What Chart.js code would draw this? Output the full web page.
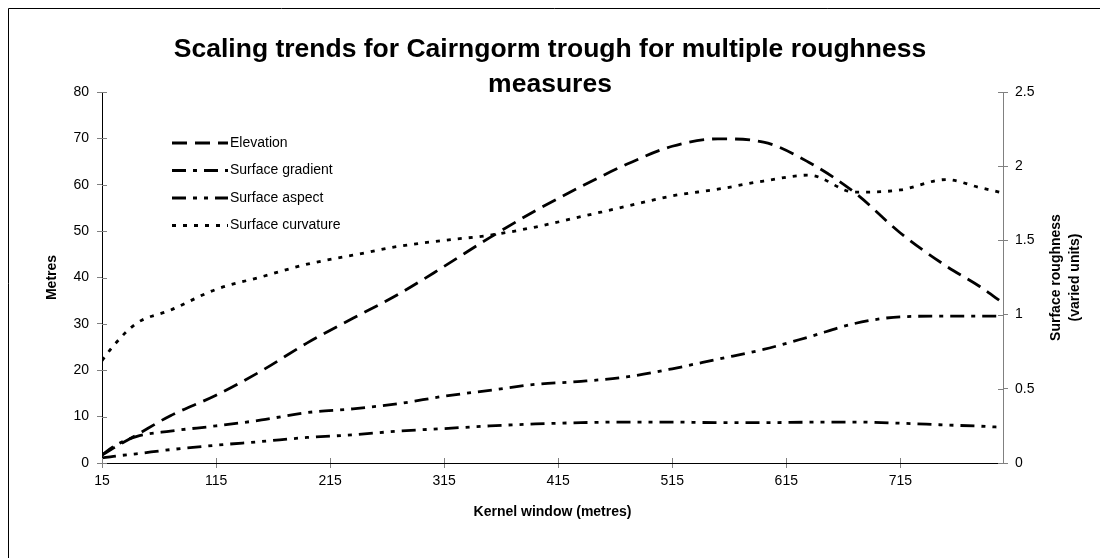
<!DOCTYPE html>
<html>
<head>
<meta charset="utf-8">
<script src="https://cdn.jsdelivr.net/npm/chart.js@4.4.1/dist/chart.umd.min.js"></script>
<style>
  html, body { margin: 0; padding: 0; background: #ffffff; }
  #wrap { width: 1100px; height: 558px; position: relative; }
</style>
</head>
<body>
<div id="wrap"><canvas id="chart" width="1100" height="558"></canvas></div>
<script>
// Kernel window sizes (metres)
const kernelWindow = [15, 25, 45, 75, 115, 155, 195, 235, 275, 315, 355, 395, 435, 475, 515, 555, 595, 635, 675, 715, 755, 785, 805];

// Elevation (metres, left axis)
const elevation = [1.7, 3.2, 6.0, 10.2, 14.6, 19.9, 25.9, 31.2, 36.4, 42.4, 48.6, 54.4, 59.6, 64.4, 68.3, 69.9, 69.2, 64.8, 58.3, 49.6, 42.5, 38.0, 34.5];

// Roughness measures (varied units, right axis)
const surfaceGradient = [0.053, 0.11, 0.178, 0.215, 0.25, 0.29, 0.34, 0.365, 0.40, 0.45, 0.49, 0.53, 0.55, 0.58, 0.635, 0.70, 0.765, 0.85, 0.94, 0.985, 0.99, 0.99, 0.99];
const surfaceAspect = [0.034, 0.045, 0.062, 0.09, 0.12, 0.145, 0.172, 0.19, 0.215, 0.232, 0.25, 0.263, 0.272, 0.276, 0.276, 0.272, 0.272, 0.275, 0.276, 0.268, 0.256, 0.248, 0.24];
const surfaceCurvature = [0.69, 0.79, 0.94, 1.03, 1.17, 1.255, 1.34, 1.40, 1.46, 1.50, 1.535, 1.59, 1.66, 1.73, 1.80, 1.845, 1.90, 1.94, 1.825, 1.84, 1.91, 1.855, 1.82];

// Tick labels
const xTickValues = [15, 115, 215, 315, 415, 515, 615, 715];

const fontFamily = "'Liberation Sans', Arial, Helvetica, sans-serif";

function toPoints(ys) {
  return kernelWindow.map((x, i) => ({ x: x, y: ys[i] }));
}

// Frame around the chart (only top and left edges fall inside the picture)
const framePlugin = {
  id: 'frame',
  beforeDraw(chart) {
    const ctx = chart.ctx;
    ctx.save();
    ctx.strokeStyle = '#000';
    ctx.lineWidth = 1;
    ctx.beginPath();
    ctx.moveTo(8.5, 560);
    ctx.lineTo(8.5, 8.5);
    ctx.lineTo(1100, 8.5);
    ctx.stroke();
    ctx.restore();
  }
};

// Excel style tick marks that cross the axis (inner half)
const innerTicksPlugin = {
  id: 'innerTicks',
  afterDraw(chart) {
    const ctx = chart.ctx;
    const area = chart.chartArea;
    ctx.save();
    ctx.strokeStyle = '#808080';
    ctx.lineWidth = 1;
    ctx.beginPath();
    chart.scales.x.ticks.forEach(t => {
      const px = Math.round(chart.scales.x.getPixelForValue(t.value)) + 0.5;
      ctx.moveTo(px, area.bottom);
      ctx.lineTo(px, area.bottom - 5);
    });
    chart.scales.y.ticks.forEach(t => {
      const py = Math.round(chart.scales.y.getPixelForValue(t.value)) + 0.5;
      ctx.moveTo(area.left, py);
      ctx.lineTo(area.left + 5, py);
    });
    chart.scales.y1.ticks.forEach(t => {
      const py = Math.round(chart.scales.y1.getPixelForValue(t.value)) + 0.5;
      ctx.moveTo(area.right, py);
      ctx.lineTo(area.right - 5, py);
    });
    ctx.stroke();
    ctx.restore();
  }
};

// Legend drawn inside the plot, top left
const insideLegendPlugin = {
  id: 'insideLegend',
  afterDatasetsDraw(chart) {
    const ctx = chart.ctx;
    ctx.save();
    ctx.font = '14px ' + fontFamily;
    ctx.textBaseline = 'middle';
    ctx.fillStyle = '#000';
    chart.data.datasets.forEach((ds, i) => {
      const y = 143 + i * 27.5;
      ctx.strokeStyle = ds.borderColor;
      ctx.lineWidth = ds.borderWidth;
      ctx.setLineDash(ds.borderDash);
      ctx.beginPath();
      ctx.moveTo(172, y);
      ctx.lineTo(228, y);
      ctx.stroke();
      ctx.setLineDash([]);
      ctx.fillText(ds.label, 230, y);
    });
    ctx.restore();
  }
};

// Right axis title reads bottom to top, as in the original
const rightTitlePlugin = {
  id: 'rightTitle',
  afterDraw(chart) {
    const ctx = chart.ctx;
    const area = chart.chartArea;
    const cy = (area.top + area.bottom) / 2;
    ctx.save();
    ctx.font = 'bold 14px ' + fontFamily;
    ctx.fillStyle = '#000';
    ctx.textAlign = 'center';
    ctx.textBaseline = 'middle';
    ctx.translate(1056, cy);
    ctx.rotate(-Math.PI / 2);
    ctx.fillText('Surface roughness', 0, 0);
    ctx.fillText('(varied units)', 0, 19);
    ctx.restore();
  }
};

const ctx = document.getElementById('chart').getContext('2d');

new Chart(ctx, {
  type: 'line',
  data: {
    datasets: [
      {
        label: 'Elevation',
        data: toPoints(elevation),
        yAxisID: 'y',
        borderColor: '#000',
        borderWidth: 2.8,
        borderDash: [15, 8]
      },
      {
        label: 'Surface gradient',
        data: toPoints(surfaceGradient),
        yAxisID: 'y1',
        borderColor: '#000',
        borderWidth: 2.8,
        borderDash: [14, 7, 4, 7]
      },
      {
        label: 'Surface aspect',
        data: toPoints(surfaceAspect),
        yAxisID: 'y1',
        borderColor: '#000',
        borderWidth: 2.8,
        borderDash: [14, 7, 4, 7, 4, 7]
      },
      {
        label: 'Surface curvature',
        data: toPoints(surfaceCurvature),
        yAxisID: 'y1',
        borderColor: '#000',
        borderWidth: 2.8,
        borderDash: [4, 7]
      }
    ]
  },
  options: {
    responsive: false,
    animation: false,
    layout: { padding: 0 },
    elements: {
      point: { radius: 0 },
      line: { cubicInterpolationMode: 'monotone', borderCapStyle: 'butt' }
    },
    plugins: {
      legend: { display: false },
      tooltip: { enabled: false },
      title: {
        display: true,
        text: ['Scaling trends for Cairngorm trough for multiple roughness', 'measures'],
        color: '#000',
        font: { family: fontFamily, size: 26.5, weight: 'bold', lineHeight: '35px' },
        padding: { top: 32, bottom: -10 }
      }
    },
    scales: {
      x: {
        type: 'linear',
        min: 15,
        max: 805,
        afterBuildTicks: axis => { axis.ticks = xTickValues.map(v => ({ value: v })); },
        afterFit: axis => { axis.height = 95; },
        grid: { drawOnChartArea: false, drawTicks: true, tickLength: 5, color: '#808080' },
        border: { color: '#000', width: 1 },
        ticks: {
          color: '#000',
          padding: 5,
          maxRotation: 0,
          font: { family: fontFamily, size: 14 },
          callback: v => String(v)
        },
        title: {
          display: true,
          text: 'Kernel window (metres)',
          color: '#000',
          font: { family: fontFamily, size: 14, weight: 'bold' },
          padding: { top: 0, bottom: 37 }
        }
      },
      y: {
        position: 'left',
        min: 0,
        max: 80,
        afterFit: axis => { axis.width = 102; },
        grid: { drawOnChartArea: false, drawTicks: true, tickLength: 5, color: '#808080' },
        border: { color: '#000', width: 1 },
        ticks: {
          stepSize: 10,
          color: '#000',
          padding: 8,
          font: { family: fontFamily, size: 14 }
        },
        title: {
          display: true,
          text: 'Metres',
          color: '#000',
          font: { family: fontFamily, size: 14, weight: 'bold' },
          padding: { top: 44, bottom: 0 }
        }
      },
      y1: {
        position: 'right',
        min: 0,
        max: 2.5,
        afterFit: axis => { axis.width = 97; },
        grid: { drawOnChartArea: false, drawTicks: true, tickLength: 5, color: '#808080' },
        border: { color: '#808080', width: 1 },
        ticks: {
          stepSize: 0.5,
          color: '#000',
          padding: 7,
          font: { family: fontFamily, size: 14 },
          callback: v => String(v)
        }
      }
    }
  },
  plugins: [framePlugin, innerTicksPlugin, insideLegendPlugin, rightTitlePlugin]
});
</script>
</body>
</html>
